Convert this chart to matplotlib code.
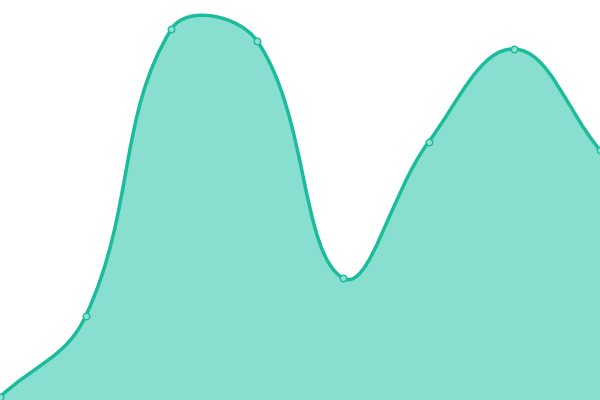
import numpy as np
import matplotlib
matplotlib.use("Agg")
import matplotlib.pyplot as plt
from matplotlib.path import Path
from matplotlib.patches import PathPatch

categories = ["A", "B", "C", "D", "E", "F", "G", "H"]
values = [3, 84, 371, 359, 122, 258, 351, 250]

LINE = "#1abc9c"
FILL = "#89dfcf"
TENSION = 0.4

fig = plt.figure(figsize=(6, 4), dpi=100)
ax = fig.add_axes([0, 0, 1, 1])
ax.set_xlim(0, len(categories) - 1)
ax.set_ylim(0, 400)
ax.axis("off")

x = np.arange(len(categories), dtype=float)
y = np.array(values, dtype=float)
pts = ax.transData.transform(np.column_stack([x, y]))
n = len(pts)

# Chart.js-style spline control points in display space
cps_prev = []
cps_next = []
for i in range(n):
    cur = pts[i]
    prev = pts[i - 1] if i > 0 else cur
    nxt = pts[i + 1] if i < n - 1 else cur
    d01 = np.hypot(*(cur - prev))
    d12 = np.hypot(*(nxt - cur))
    tot = d01 + d12
    s01 = d01 / tot if tot else 0
    s12 = d12 / tot if tot else 0
    fa = TENSION * s01
    fb = TENSION * s12
    cps_prev.append(cur - fa * (nxt - prev))
    cps_next.append(cur + fb * (nxt - prev))

verts = [pts[0]]
codes = [Path.MOVETO]
for i in range(n - 1):
    verts += [cps_next[i], cps_prev[i + 1], pts[i + 1]]
    codes += [Path.CURVE4] * 3
inv = ax.transData.inverted()
verts_d = inv.transform(np.array(verts))

line_path = Path(verts_d, codes)
fill_verts = np.vstack([verts_d, [[x[-1], 0], [x[0], 0], verts_d[0]]])
fill_codes = codes + [Path.LINETO, Path.LINETO, Path.CLOSEPOLY]
fill_path = Path(fill_verts, fill_codes)

ax.add_patch(PathPatch(fill_path, facecolor=FILL, edgecolor="none", zorder=1))
ax.add_patch(PathPatch(line_path, facecolor="none", edgecolor=LINE, lw=2.5, zorder=2,
                       clip_on=False))
ax.scatter(x, y, s=22, facecolor="#8de0d0", edgecolor=LINE, linewidths=1.0, zorder=3,
           clip_on=True)

fig.savefig("out.png", dpi=100)
